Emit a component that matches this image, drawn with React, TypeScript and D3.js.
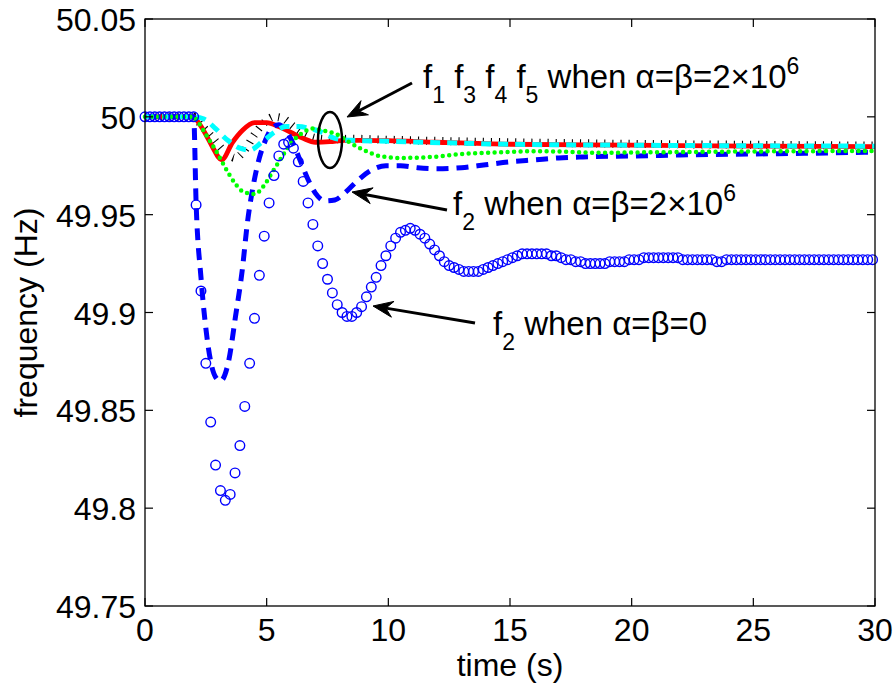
import React from "react";
import * as d3 from "d3";

const W = 896;
const H = 688;

// axis definitions
const X_DOMAIN: [number, number] = [0, 30];
const Y_DOMAIN: [number, number] = [49.75, 50.05];
const X_TICKS = [0, 5, 10, 15, 20, 25, 30];
const X_TICK_LABELS = ["0", "5", "10", "15", "20", "25", "30"];
const Y_TICKS = [49.75, 49.8, 49.85, 49.9, 49.95, 50, 50.05];
const Y_TICK_LABELS = ["49.75", "49.8", "49.85", "49.9", "49.95", "50", "50.05"];

// f1 (red solid) when alpha=beta=2e6
const redSeries: [number, number][] = [
  [0, 50], [2.0, 50], [2.2, 49.997], [2.5, 49.991], [2.8, 49.984], [3.15, 49.978],
  [3.6, 49.987], [4.0, 49.993], [4.5, 49.997], [5.0, 49.997], [5.5, 49.995],
  [6.0, 49.992], [6.5, 49.989], [7.0, 49.987], [7.6, 49.9873], [8.2, 49.988],
  [9.0, 49.988], [10, 49.9878], [12, 49.987], [15, 49.986], [20, 49.9855],
  [25, 49.985], [30, 49.9848],
];

// f3 (black tick-marked line)
const blackSeries: [number, number][] = [
  [0, 50], [2.0, 50], [2.3, 49.996], [2.8, 49.989], [3.3, 49.982], [3.7, 49.979],
  [4.1, 49.983], [4.5, 49.991], [4.9, 49.997], [5.3, 50.0], [5.7, 49.999],
  [6.1, 49.995], [6.6, 49.991], [7.1, 49.989], [7.6, 49.9885], [8.5, 49.9888],
  [10, 49.9883], [15, 49.987], [20, 49.9862], [25, 49.9857], [30, 49.9853],
];

// f4 (cyan dashed)
const cyanSeries: [number, number][] = [
  [0, 50], [2.0, 50], [2.4, 49.999], [2.9, 49.994], [3.4, 49.988], [3.9, 49.984],
  [4.3, 49.983], [4.8, 49.987], [5.3, 49.992], [5.8, 49.995], [6.3, 49.995],
  [6.8, 49.994], [7.3, 49.992], [7.8, 49.989], [8.5, 49.988], [10, 49.9875],
  [15, 49.986], [20, 49.9855], [25, 49.9852], [30, 49.985],
];

// f5 (green dotted)
const greenSeries: [number, number][] = [
  [0, 50], [2.0, 50], [2.2, 49.997], [2.55, 49.99], [2.9, 49.983], [3.3, 49.974],
  [3.7, 49.966], [4.0, 49.962], [4.5, 49.9605], [4.9, 49.965], [5.2, 49.971],
  [5.5, 49.977], [5.8, 49.983], [6.1, 49.988], [6.5, 49.992], [6.9, 49.994],
  [7.3, 49.993], [7.9, 49.991], [8.4, 49.987], [9.0, 49.983], [9.7, 49.9798],
  [10.5, 49.979], [11.8, 49.9795], [13.2, 49.9812], [14.5, 49.9818], [16, 49.9824],
  [17, 49.9823], [18.6, 49.9816], [20, 49.9818], [22, 49.982], [25, 49.9823],
  [30, 49.9826],
];

// f2 (blue dashed) when alpha=beta=2e6
const blueDashSeries: [number, number][] = [
  [0, 50], [2.0, 50], [2.1, 49.956], [2.3, 49.918], [2.5, 49.892], [2.7, 49.875],
  [2.9, 49.867], [3.1, 49.865], [3.45, 49.876], [3.72, 49.898], [4.0, 49.922],
  [4.2, 49.945], [4.45, 49.965], [4.7, 49.979], [4.95, 49.988], [5.2, 49.994],
  [5.5, 49.996], [5.8, 49.993], [6.1, 49.986], [6.4, 49.977], [6.7, 49.968],
  [7.0, 49.961], [7.4, 49.957], [7.8, 49.9575], [8.2, 49.961], [8.7, 49.967],
  [9.2, 49.972], [9.9, 49.975], [10.5, 49.975], [11.2, 49.974], [12, 49.9735],
  [13, 49.974], [14, 49.9755], [15, 49.977], [16, 49.978], [17, 49.979],
  [18, 49.9795], [20, 49.98], [22, 49.9805], [25, 49.981], [28, 49.9815], [30, 49.982],
];

// f2 (blue circles) when alpha=beta=0 -- sample times
const circleTimes: number[] = [
  ...d3.range(11).map((i) => i * 0.2),
  ...d3.range(140).map((k) => 2.1 + 0.2 * k),
];
const circleValues: number[] = [
  50, 50, 50, 50, 50, 50, 50, 50, 50, 50, 50,
  49.955, 49.911, 49.874, 49.844, 49.822,
  49.809, 49.804, 49.807, 49.818, 49.832,
  49.852, 49.874, 49.897, 49.919, 49.939,
  49.956, 49.970, 49.980, 49.986, 49.987,
  49.984, 49.977, 49.967, 49.956, 49.945,
  49.934, 49.925, 49.917, 49.910, 49.904,
  49.900, 49.898, 49.898, 49.900, 49.903,
  49.908, 49.913, 49.918, 49.924, 49.929,
  49.934, 49.938, 49.941, 49.942, 49.943,
  49.942, 49.940, 49.938, 49.935, 49.932,
  49.929, 49.926, 49.924, 49.923, 49.922,
  49.921, 49.921, 49.921, 49.921, 49.922,
  49.923, 49.924, 49.925, 49.926, 49.927,
  49.928, 49.929, 49.930, 49.930, 49.930,
  49.930, 49.930, 49.930, 49.929, 49.929,
  49.928, 49.927, 49.927, 49.926, 49.926,
  49.925, 49.925, 49.925, 49.925, 49.925,
  49.926, 49.926, 49.926, 49.926, 49.927,
  49.927, 49.927, 49.928, 49.928, 49.928,
  49.928, 49.928, 49.928, 49.928, 49.928,
  49.927, 49.927, 49.927, 49.927, 49.927,
  49.927, 49.927, 49.926, 49.926, 49.927,
  49.927, 49.927, 49.927, 49.927, 49.927,
  49.927, 49.927, 49.927, 49.927, 49.927,
  49.927, 49.927, 49.927, 49.927, 49.927,
  49.927, 49.927, 49.927, 49.927, 49.927,
  49.927, 49.927, 49.927, 49.927, 49.927,
  49.927, 49.927, 49.927, 49.927, 49.927,
];

const FONT = "'Liberation Sans', Arial, Helvetica, sans-serif";

const PLOT = { left: 145, right: 875, top: 19, bottom: 606 };

function Arrow({ x1, y1, x2, y2 }: { x1: number; y1: number; x2: number; y2: number }) {
  // tail (x1,y1) -> tip (x2,y2)
  const dx = x2 - x1;
  const dy = y2 - y1;
  const len = Math.hypot(dx, dy);
  const ux = dx / len;
  const uy = dy / len;
  const px = -uy;
  const py = ux;
  const L = 20;
  const hw = 8;
  const notch = 13;
  const bx = x2 - ux * L;
  const by = y2 - uy * L;
  const nx = x2 - ux * notch;
  const ny = y2 - uy * notch;
  const pts = [
    [x2, y2],
    [bx + px * hw, by + py * hw],
    [nx, ny],
    [bx - px * hw, by - py * hw],
  ];
  return (
    <g>
      <line x1={x1} y1={y1} x2={nx} y2={ny} stroke="#000" strokeWidth={3} />
      <polygon points={pts.map((p) => p.join(",")).join(" ")} fill="#000" stroke="#000" strokeWidth={1} strokeLinejoin="miter" />
    </g>
  );
}

export default function App() {
  const x = d3.scaleLinear().domain(X_DOMAIN).range([PLOT.left, PLOT.right]);
  const y = d3.scaleLinear().domain(Y_DOMAIN).range([PLOT.bottom, PLOT.top]);
  const line = d3
    .line<[number, number]>()
    .x((d) => x(d[0]))
    .y((d) => y(d[1]))
    .curve(d3.curveMonotoneX);

  const tickLen = 8;
  const subSize = 23;
  const mainSize = 33;
  const axisSize = 32;

  return (
    <svg
      width={W}
      height={H}
      viewBox={`0 0 ${W} ${H}`}
      style={{ position: "absolute", left: 0, top: 0, background: "#fff" }}
      fontFamily={FONT}
    >
      <rect x={0} y={0} width={W} height={H} fill="#fff" />

      {/* series */}
      <path d={line(blackSeries) || ""} fill="none" stroke="#000" strokeWidth={8} strokeDasharray="1.1,7" />
      <path d={line(redSeries) || ""} fill="none" stroke="#ff0000" strokeWidth={4.8} strokeLinejoin="round" />
      <path d={line(blueDashSeries) || ""} fill="none" stroke="#0000ff" strokeWidth={5} strokeDasharray="12,8" />
      <path d={line(cyanSeries) || ""} fill="none" stroke="#00ffff" strokeWidth={5} strokeDasharray="10,7" />
      <path d={line(greenSeries) || ""} fill="none" stroke="#00ff00" strokeWidth={4.5} strokeDasharray="0,6.5" strokeLinecap="round" />
      <g>
        {circleTimes.map((t, i) => (
          <circle key={i} cx={x(t)} cy={y(circleValues[i])} r={4.8} fill="none" stroke="#0000ff" strokeWidth={1.4} />
        ))}
      </g>

      {/* axes box */}
      <rect
        x={PLOT.left}
        y={PLOT.top}
        width={PLOT.right - PLOT.left}
        height={PLOT.bottom - PLOT.top}
        fill="none"
        stroke="#000"
        strokeWidth={1.3}
      />
      {X_TICKS.map((t, i) => (
        <g key={"xt" + i}>
          <line x1={x(t)} x2={x(t)} y1={PLOT.bottom} y2={PLOT.bottom - tickLen} stroke="#000" strokeWidth={1.2} />
          <line x1={x(t)} x2={x(t)} y1={PLOT.top} y2={PLOT.top + tickLen} stroke="#000" strokeWidth={1.2} />
          <text x={x(t)} y={641} textAnchor="middle" fontSize={axisSize} fill="#000">
            {X_TICK_LABELS[i]}
          </text>
        </g>
      ))}
      {Y_TICKS.map((v, i) => (
        <g key={"yt" + i}>
          <line x1={PLOT.left} x2={PLOT.left + tickLen} y1={y(v)} y2={y(v)} stroke="#000" strokeWidth={1.2} />
          <line x1={PLOT.right} x2={PLOT.right - tickLen} y1={y(v)} y2={y(v)} stroke="#000" strokeWidth={1.2} />
          <text x={136} y={y(v) + 12} textAnchor="end" fontSize={axisSize} fill="#000">
            {Y_TICK_LABELS[i]}
          </text>
        </g>
      ))}

      {/* axis labels */}
      <text x={(PLOT.left + PLOT.right) / 2} y={676} textAnchor="middle" fontSize={axisSize} fill="#000">
        time (s)
      </text>
      <text
        transform={`translate(37,${(PLOT.top + PLOT.bottom) / 2}) rotate(-90)`}
        textAnchor="middle"
        fontSize={axisSize}
        fill="#000"
      >
        frequency (Hz)
      </text>

      {/* annotations */}
      <ellipse cx={330} cy={140} rx={12} ry={28} fill="none" stroke="#000" strokeWidth={2.5} />
      <Arrow x1={412} y1={83} x2={347} y2={117} />
      <Arrow x1={447} y1={210} x2={352} y2={192} />
      <Arrow x1={475} y1={323} x2={373} y2={306} />

      <text x={423} y={88} fontSize={mainSize} fill="#000" style={{ whiteSpace: "pre" }}>
        <tspan>f</tspan>
        <tspan dy={15} fontSize={subSize}>1</tspan>
        <tspan dy={-15}>{" f"}</tspan>
        <tspan dy={15} fontSize={subSize}>3</tspan>
        <tspan dy={-15}>{" f"}</tspan>
        <tspan dy={15} fontSize={subSize}>4</tspan>
        <tspan dy={-15}>{" f"}</tspan>
        <tspan dy={15} fontSize={subSize}>5</tspan>
        <tspan dy={-15}>{" when \u03B1=\u03B2=2\u00D710"}</tspan>
        <tspan dy={-14} fontSize={subSize}>6</tspan>
      </text>
      <text x={453} y={215} fontSize={mainSize} fill="#000" style={{ whiteSpace: "pre" }}>
        <tspan>f</tspan>
        <tspan dy={15} fontSize={subSize}>2</tspan>
        <tspan dy={-15}>{" when \u03B1=\u03B2=2\u00D710"}</tspan>
        <tspan dy={-14} fontSize={subSize}>6</tspan>
      </text>
      <text x={493} y={335} fontSize={mainSize} fill="#000" style={{ whiteSpace: "pre" }}>
        <tspan>f</tspan>
        <tspan dy={15} fontSize={subSize}>2</tspan>
        <tspan dy={-15}>{" when \u03B1=\u03B2=0"}</tspan>
      </text>
    </svg>
  );
}
